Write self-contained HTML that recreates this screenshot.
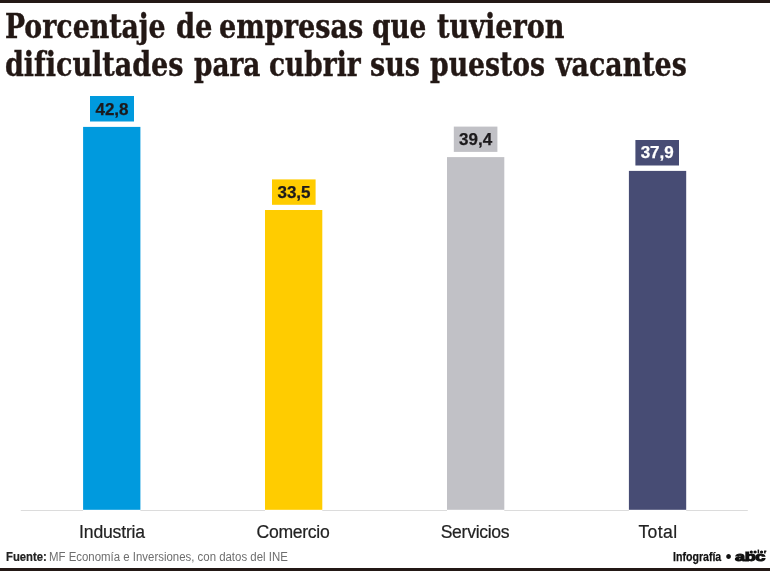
<!DOCTYPE html>
<html lang="es">
<head>
<meta charset="utf-8">
<title>Porcentaje de empresas que tuvieron dificultades para cubrir sus puestos vacantes</title>
<style>
html,body{margin:0;padding:0;background:#fff;}
body{width:770px;height:571px;position:relative;overflow:hidden;font-family:"Liberation Sans",sans-serif;}
.rule{position:absolute;left:0;width:770px;height:3px;background:#231815;}
.rule.top{top:0;}
.rule.bottom{top:568px;}
h1{position:absolute;left:0;top:0;margin:0;font-family:"DejaVu Serif Condensed","DejaVu Serif","Liberation Serif",serif;font-weight:bold;font-size:33px;line-height:40px;color:#231815;white-space:nowrap;-webkit-text-stroke:0.4px #231815;}
h1 span{display:block;position:absolute;transform-origin:0 0;}
h1 .l1{top:7px;}
h1 .l2{top:45px;}
svg.chart{position:absolute;left:0;top:0;width:770px;height:571px;}
.val{position:absolute;width:44px;height:26px;line-height:27.6px;text-align:center;font-weight:bold;font-size:17px;letter-spacing:0;color:#1c1a1c;-webkit-text-stroke:0.25px currentColor;}
.cat{position:absolute;top:522px;width:182px;text-align:center;font-size:17.6px;line-height:20px;color:#222;letter-spacing:-0.3px;-webkit-text-stroke:0.2px #222;}
.src{position:absolute;left:5.2px;top:550.1px;font-size:12px;line-height:15px;color:#6e6e6e;white-space:nowrap;}
.src b,.src span{position:absolute;top:0;transform-origin:0 0;display:block;}
.src b{left:0.5px;color:#222;transform:scaleX(0.94);-webkit-text-stroke:0.2px #222;}
.src span{left:43.8px;transform:scaleX(0.952);}
.credit{position:absolute;left:673.3px;top:548.8px;font-size:13px;line-height:15px;font-weight:bold;color:#111;white-space:nowrap;transform-origin:0 0;transform:scaleX(0.815);-webkit-text-stroke:0.25px #111;}
.dot{position:absolute;left:723px;top:549px;width:11px;height:16px;font-size:17.5px;line-height:16px;text-align:center;color:#111;}
.logo{position:absolute;left:735.2px;top:548px;font-size:12.5px;line-height:18px;font-weight:bold;color:#111;white-space:nowrap;transform-origin:0 0;transform:scaleX(1.45);-webkit-text-stroke:1px #111;letter-spacing:-0.3px;}
.logo2{position:absolute;left:750px;top:550px;font-size:4.4px;line-height:4.4px;font-weight:bold;color:#111;white-space:nowrap;letter-spacing:1.3px;-webkit-text-stroke:0.9px #111;}
</style>
</head>
<body>
<div class="rule top"></div>
<h1><span class="l1" style="left:5.21px;transform:scaleX(0.9020)">Porcentaje</span> <span class="l1" style="left:175.50px;transform:scaleX(0.9200)">de</span> <span class="l1" style="left:219.28px;transform:scaleX(0.9112)">empresas</span> <span class="l1" style="left:371.92px;transform:scaleX(0.8864)">que</span> <span class="l1" style="left:436.60px;transform:scaleX(0.9120)">tuvieron</span>
<span class="l2" style="left:4.66px;transform:scaleX(0.9090)">dificultades</span> <span class="l2" style="left:193.60px;transform:scaleX(0.8866)">para</span> <span class="l2" style="left:269.26px;transform:scaleX(0.8894)">cubrir</span> <span class="l2" style="left:370.06px;transform:scaleX(0.9091)">sus</span> <span class="l2" style="left:430.20px;transform:scaleX(0.8983)">puestos</span> <span class="l2" style="left:556.10px;transform:scaleX(0.9033)">vacantes</span></h1>

<svg class="chart" viewBox="0 0 770 571">
  <g fill="#dcdcdc"><rect x="20.8" y="510" width="62.3" height="1"/><rect x="140.4" y="510" width="124.6" height="1"/><rect x="322.3" y="510" width="124.7" height="1"/><rect x="504.3" y="510" width="124.6" height="1"/><rect x="686.2" y="510" width="61.6" height="1"/></g>
  <g fill="#009ade">
    <rect x="90" y="96" width="44" height="25.5"/>
    <rect x="83.1" y="126.9" width="57.3" height="382.9"/>
  </g>
  <g fill="#ffcc00">
    <rect x="272" y="179.4" width="43.6" height="25.4"/>
    <rect x="265" y="210" width="57.3" height="299.8"/>
  </g>
  <g fill="#c1c1c6">
    <rect x="453.8" y="126.6" width="43.6" height="25.3"/>
    <rect x="447" y="157.1" width="57.3" height="352.7"/>
  </g>
  <g fill="#474c74">
    <rect x="635.4" y="140" width="43.6" height="25.5"/>
    <rect x="628.9" y="170.9" width="57.3" height="338.9"/>
  </g>
</svg>

<div class="val" style="left:90px;top:96px;">42,8</div>
<div class="val" style="left:272px;top:179px;">33,5</div>
<div class="val" style="left:453.6px;top:126px;">39,4</div>
<div class="val" style="left:635.2px;top:139px;color:#fff;">37,9</div>

<div class="cat" style="left:21px;letter-spacing:-0.18px;">Industria</div>
<div class="cat" style="left:202px;">Comercio</div>
<div class="cat" style="left:384px;">Servicios</div>
<div class="cat" style="left:567px;letter-spacing:0.4px;">Total</div>

<div class="src"><b>Fuente:</b> <span>MF Economía e Inversiones, con datos del INE</span></div>
<div class="credit">Infografía</div>
<div class="dot">•</div>
<div class="logo">abc</div>
<div class="logo2">color</div>
<div class="rule bottom"></div>
</body>
</html>
